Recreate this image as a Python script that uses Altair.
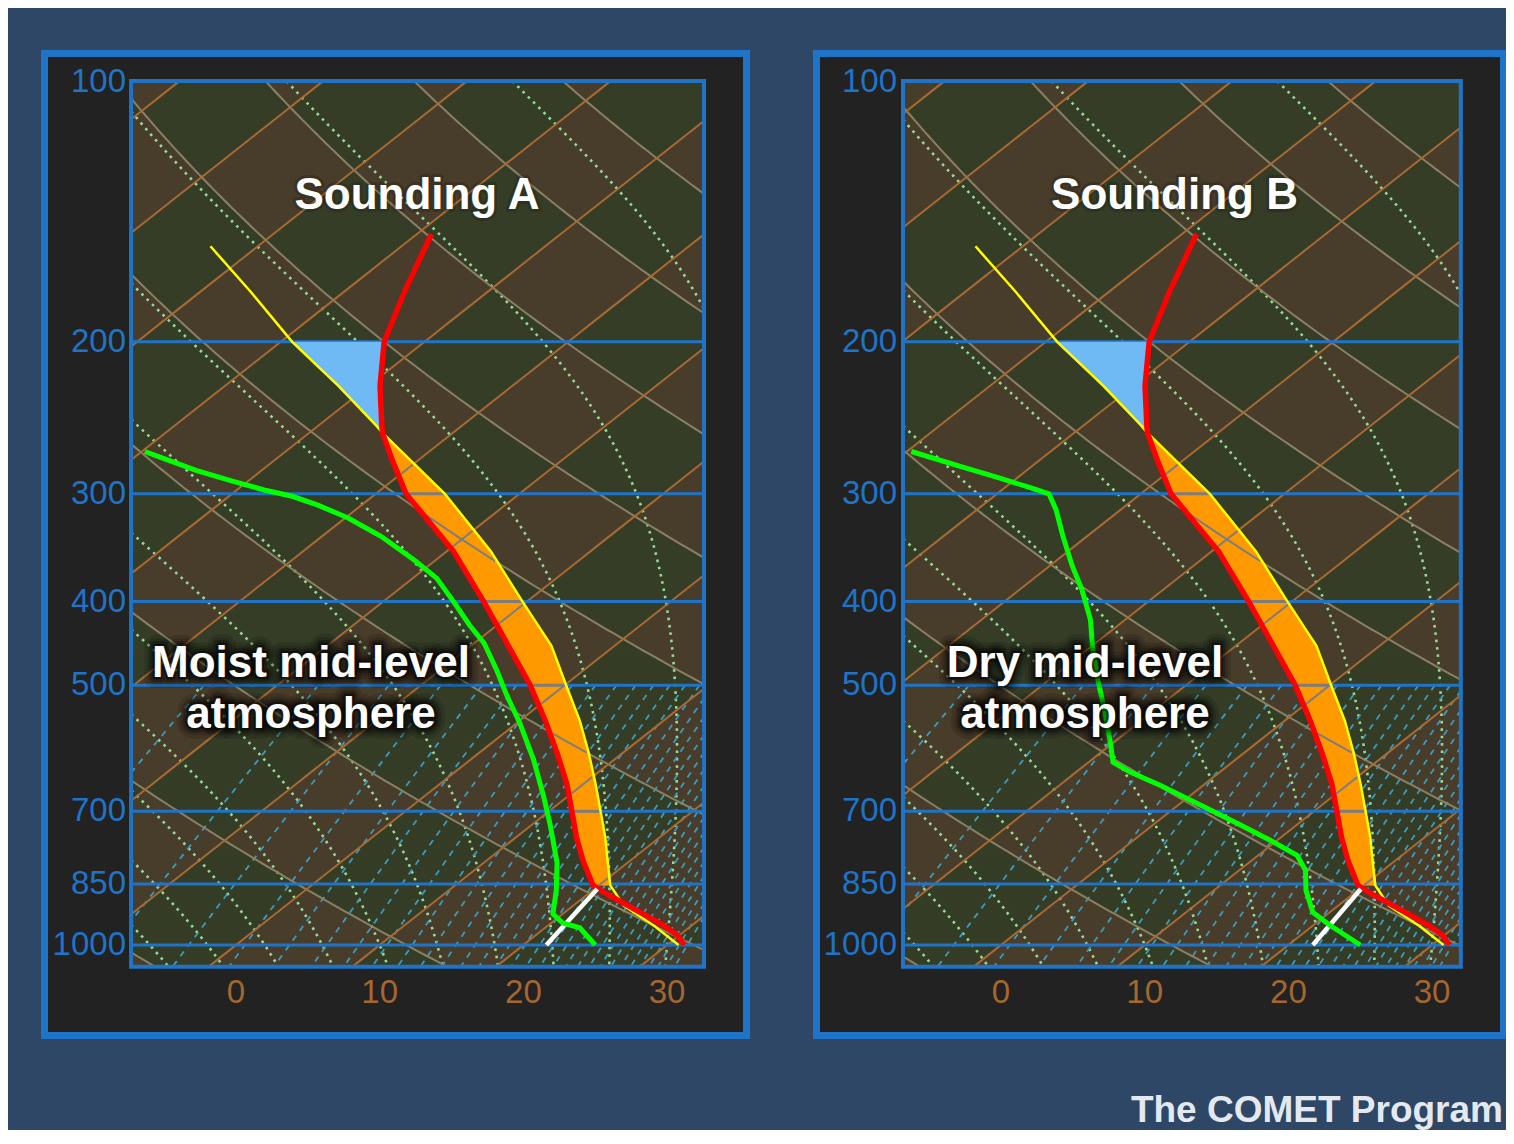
import math
import numpy as np
import pandas as pd
import altair as alt

# ---------------- values ----------------
PRESSURE_LINES = [200, 300, 400, 500, 700, 850, 1000]          # hPa
Y_TICKS = [100, 200, 300, 400, 500, 700, 850, 1000]             # hPa
X_TICKS = [0, 10, 20, 30]                                       # degC

# environmental temperature (identical in both soundings)
ENV_P = [150, 175, 200, 225, 250, 255, 275, 300, 350, 400, 450, 500, 550, 600,
         650, 700, 750, 800, 853, 875, 900, 925, 950, 975, 1000]
ENV_T = [-49.0, -45.8, -42.8, -39.2, -35.6, -34.9, -31.7, -27.9, -19.5, -13.0,
         -7.4, -2.4, 1.8, 5.5, 8.8, 11.6, 14.2, 16.8, 19.6, 21.5, 23.8, 26.0,
         28.1, 29.9, 31.2]

# lifted parcel temperature
PARCEL_P = [155, 175, 200, 225, 250, 255, 275, 300, 350, 400, 450, 500, 550,
            600, 650, 700, 750, 800, 853, 900, 950, 1000]
PARCEL_T = [-63.3, -56.5, -49.2, -42.1, -36.0, -34.9, -30.4, -25.2, -16.9,
            -10.3, -4.4, 0.1, 4.2, 7.7, 10.8, 13.6, 16.2, 18.5, 20.8, 23.5,
            27.4, 30.8]

# dew point, sounding A (moist mid levels)
DEW_A_P = [268, 273, 282, 290, 297, 302, 309, 320, 336, 358, 376, 400, 426,
           447, 482, 513, 553, 610, 674, 726, 803, 865, 920, 943, 955, 1000]
DEW_A_T = [-49.8, -47.9, -44.5, -41.1, -38.1, -35.6, -33.1, -29.8, -25.9,
           -21.5, -18.3, -15.1, -11.9, -9.3, -5.9, -3.2, 0.2, 4.4, 8.4, 11.3,
           15.1, 17.5, 19.3, 20.8, 22.4, 25.0]

# dew point, sounding B (dry mid levels)
DEW_B_P = [268, 279, 288, 295, 300, 313, 335, 363, 388, 420, 455, 493, 534,
           586, 614, 630, 653, 688, 726, 756, 787, 819, 864, 916, 948, 1000]
DEW_B_T = [-49.7, -44.9, -41.1, -38.3, -36.4, -34.5, -31.8, -28.5, -25.6,
           -22.4, -19.6, -16.6, -13.5, -10.0, -8.3, -6.3, -3.0, 1.5, 6.1, 9.5,
           12.7, 14.6, 16.4, 18.8, 21.1, 25.0]

# surface mixing-ratio line up to the LCL (white)
SFC_MIX_P = [1000, 861]
SFC_MIX_A_T = [21.6, 20.2]
SFC_MIX_B_T = [21.7, 20.1]

# reference lines of the diagram
ISOTHERMS = list(range(-90, 41, 10))            # degC
DRY_ADIABATS = list(range(245, 466, 20))        # potential temperature, K
MOIST_ADIABATS = list(range(-6, 39, 4))         # wet-bulb potential temp, degC
MIXING_RATIOS = list(range(1, 31))              # g/kg
MIX_TOP = 500.0                                 # hPa

# ---------------- diagram geometry ----------------
SKEW = 33.0          # degC of horizontal shift per unit of ln(p)
P_REF = 1000.0
LN_REF = math.log(P_REF)
KAPPA = 0.286
PLOT_P = (99.7, 1060.0)
PLOT_X_A = (-7.3, 32.57)
PLOT_X_B = (-6.82, 32.0)

W, H = 1498, 1122
PX_PER_DEG = 14.37
PX_PER_LNP = 374.8
LNP_OFFSET = 1644.0 + 8.0    # view_y = PX_PER_LNP*ln(p) - LNP_OFFSET

Y_DOM = [math.exp(LNP_OFFSET / PX_PER_LNP), math.exp((H + LNP_OFFSET) / PX_PER_LNP)]
YS = alt.Scale(type="log", domain=Y_DOM, reverse=True, nice=False)

# colours
BG_PAGE = "#2e4767"
PANEL_FILL = "#222222"
BLUE = "#1f74c8"
PLOT_BROWN = "#483c2a"
PLOT_GREEN = "#353d27"
ISO_C = "#a86a34"
DRY_C = "#8a8064"
MOIST_C = "#96da96"
MIX_C = "#3e9bbb"
XLAB_C = "#a3672f"
GRAY_C = "#7d7d7d"
LABEL_FONT = "Liberation Sans Narrow, Arial Narrow, Liberation Sans"

RD, CP, LV, EPS = 287.04, 1005.7, 2.501e6, 0.622


def clip_curve(X, lp, xmin, xmax):
    segs, cur = [], []
    inside = (X >= xmin) & (X <= xmax)
    for k in range(len(X)):
        if k > 0 and inside[k] != inside[k - 1]:
            bound = xmin if (X[k] < xmin or X[k - 1] < xmin) else xmax
            t = (bound - X[k - 1]) / (X[k] - X[k - 1])
            cur.append((bound, lp[k - 1] + t * (lp[k] - lp[k - 1])))
            if not inside[k]:
                segs.append(cur)
                cur = []
        if inside[k]:
            cur.append((X[k], lp[k]))
    if len(cur) > 1:
        segs.append(cur)
    return segs


def rows_of(segs, name):
    rows = []
    for s, seg in enumerate(segs):
        for k, (x, l) in enumerate(seg):
            rows.append({"X": x, "p": math.exp(l), "id": f"{name}_{s}", "i": k})
    return rows


def moist_rate(T, lnp):
    p = math.exp(lnp)
    es = 6.112 * math.exp(17.67 * (T - 273.15) / (T - 29.65))
    rs = EPS * es / (p - es)
    return (RD * T + LV * rs) / (CP + LV * LV * rs * EPS / (RD * T * T))


def integrate(T0, l0, l1, n):
    ls = np.linspace(l0, l1, n)
    Ts = np.empty(n)
    Ts[0] = T0
    for k in range(n - 1):
        h = ls[k + 1] - ls[k]
        T, l = Ts[k], ls[k]
        k1 = moist_rate(T, l)
        k2 = moist_rate(T + h * k1 / 2, l + h / 2)
        k3 = moist_rate(T + h * k2 / 2, l + h / 2)
        k4 = moist_rate(T + h * k3, l + h)
        Ts[k + 1] = T + h * (k1 + 2 * k2 + 2 * k3 + k4) / 6
    return ls, Ts


def iso_x(T, lp):
    return T + SKEW * (LN_REF - lp)


def dry_x(th, lp):
    return th * np.exp(KAPPA * (lp - LN_REF)) - 273.15 + SKEW * (LN_REF - lp)


def grid_frames(xmin, xmax):
    lp_top, lp_bot = math.log(PLOT_P[0]), math.log(PLOT_P[1])
    iso, dry, moist, mix = [], [], [], []
    lp = np.linspace(lp_top, lp_bot, 60)
    for T in ISOTHERMS:
        iso += rows_of(clip_curve(iso_x(T, lp), lp, xmin, xmax), f"t{T}")
    lp = np.linspace(lp_top, lp_bot, 240)
    for th in DRY_ADIABATS:
        dry += rows_of(clip_curve(dry_x(th, lp), lp, xmin, xmax), f"d{th}")
    for tw in MOIST_ADIABATS:
        lu, Tu = integrate(tw + 273.15, LN_REF, lp_top, 400)
        ld, Td = integrate(tw + 273.15, LN_REF, lp_bot, 12)
        ls = np.concatenate([lu[::-1], ld[1:]])
        Ts = np.concatenate([Tu[::-1], Td[1:]])
        Tc = np.interp(lp, ls, Ts) - 273.15
        moist += rows_of(clip_curve(iso_x(Tc, lp), lp, xmin, xmax), f"m{tw}")
    lpm = np.linspace(math.log(MIX_TOP), lp_bot, 60)
    for r in MIXING_RATIOS:
        e = np.exp(lpm) * r / (622.0 + r)
        a = np.log(e / 6.112)
        Tdew = 243.5 * a / (17.67 - a)
        mix += rows_of(clip_curve(iso_x(Tdew, lpm), lpm, xmin, xmax), f"r{r}")
    return [pd.DataFrame(d) for d in (iso, dry, moist, mix)]


def lines_inside_band(cape):
    """Grid lines where they cross the CAPE area (they show grey there)."""
    c = cape.sort_values("p")
    lpc = np.log(c["p"].values)
    lp = np.linspace(lpc[0], lpc[-1], 1500)
    xe = np.interp(lp, lpc, c["Xe"].values)
    xp = np.interp(lp, lpc, c["Xp"].values)
    rows = []
    curves = [(f"t{T}", iso_x(T, lp)) for T in ISOTHERMS] + \
             [(f"d{th}", dry_x(th, lp)) for th in DRY_ADIABATS]
    for name, X in curves:
        m = (X >= xe + 0.15) & (X <= xp - 0.1)
        d = np.diff(np.concatenate([[0], m.astype(int), [0]]))
        for s_i, (s, e) in enumerate(zip(np.where(d == 1)[0], np.where(d == -1)[0])):
            if e - s < 2:
                continue
            for k in range(s, e):
                rows.append({"X": X[k], "p": math.exp(lp[k]), "id": f"{name}_{s_i}", "i": k})
    return pd.DataFrame(rows)


def checker(xmin, xmax, n_strips=443):
    """Alternate shading of the cells between isotherms and dry adiabats."""
    lp_top, lp_bot = math.log(PLOT_P[0]), math.log(PLOT_P[1])
    lps = np.linspace(lp_top, lp_bot, n_strips + 1)
    h = lps[1] - lps[0]
    dx = 1.0 / PX_PER_DEG
    xs = np.arange(xmin + dx / 2, xmax, dx)
    rows = []
    th0, dth = DRY_ADIABATS[0], DRY_ADIABATS[1] - DRY_ADIABATS[0]
    for k in range(n_strips):
        lc = 0.5 * (lps[k] + lps[k + 1])
        T = xs - SKEW * (LN_REF - lc)
        th = (T + 273.15) * math.exp(KAPPA * (LN_REF - lc))
        par = ((np.floor(T / 10) + np.floor((th - th0) / dth)) % 2 == 0).astype(int)
        d = np.diff(np.concatenate([[0], par, [0]]))
        for s, e in zip(np.where(d == 1)[0], np.where(d == -1)[0]):
            rows.append({
                "x0": max(xmin, xs[s] - dx / 2),
                "x1": min(xmax, xs[e - 1] + dx / 2),
                "p0": math.exp(lps[k]),
                "p1": math.exp(min(lps[k + 1] + 0.5 * h, lp_bot)),
            })
    return pd.DataFrame(rows)


def text_with_shadow(text, x, y, size, align="center", strong=True):
    one = pd.DataFrame({"t": [text]})
    base = alt.Chart(one)
    layers = []
    halo = ((22, 0.12), (15, 0.18), (10, 0.26), (5, 0.45)) if strong else ((6, 0.18),)
    for sw, so in halo:
        layers.append(base.mark_text(
            font="Liberation Sans", fontWeight="bold", fontSize=size,
            align=align, baseline="alphabetic", fillOpacity=0,
            stroke="#000000", strokeWidth=sw, strokeOpacity=so,
            strokeJoin="round").encode(text="t:N", x=alt.value(x), y=alt.value(y)))
    layers.append(base.mark_text(
        font="Liberation Sans", fontWeight="bold", fontSize=size, align=align,
        baseline="alphabetic", color="#ffffff").encode(
        text="t:N", x=alt.value(x), y=alt.value(y)))
    return layers


def panel(zero_x, xr, dew_p, dew_t, mix_t, title, title_x, note1, note2,
          note_x, frame_x0, frame_x1, ylab_x):
    xdom = [-zero_x / PX_PER_DEG, (W - zero_x) / PX_PER_DEG]
    XS = alt.Scale(domain=xdom, nice=False, zero=False)

    def X(f):
        return alt.X(f, type="quantitative", scale=XS, axis=None)

    def Y(f):
        return alt.Y(f, type="quantitative", scale=YS, axis=None)

    skew_expr = f"datum.T + {SKEW} * log({P_REF} / datum.p)"
    one = pd.DataFrame({"k": [0]})
    L = []
    # panel frame
    L.append(alt.Chart(one).mark_rect(fill=PANEL_FILL, stroke=BLUE, strokeWidth=7).encode(
        x=alt.value(frame_x0), x2=alt.value(frame_x1), y=alt.value(45.5), y2=alt.value(1027.5)))
    box = pd.DataFrame({"x0": [xr[0]], "x1": [xr[1]], "p0": [PLOT_P[0]], "p1": [PLOT_P[1]]})
    L.append(alt.Chart(box).mark_rect(fill=PLOT_BROWN).encode(
        x=X("x0"), x2="x1", y=Y("p0"), y2="p1"))
    L.append(alt.Chart(checker(*xr)).mark_rect(fill=PLOT_GREEN, strokeWidth=0).encode(
        x=X("x0"), x2="x1", y=Y("p0"), y2="p1"))
    iso, dry, moist, mix = grid_frames(*xr)
    L.append(alt.Chart(moist).mark_line(color=MOIST_C, strokeWidth=2.6, strokeDash=[2.6, 4.8]).encode(
        x=X("X"), y=Y("p"), detail="id:N", order="i:Q"))
    L.append(alt.Chart(mix).mark_line(color=MIX_C, strokeWidth=1.8, strokeDash=[6, 6]).encode(
        x=X("X"), y=Y("p"), detail="id:N", order="i:Q"))
    L.append(alt.Chart(dry).mark_line(color=DRY_C, strokeWidth=2).encode(
        x=X("X"), y=Y("p"), detail="id:N", order="i:Q"))
    L.append(alt.Chart(iso).mark_line(color=ISO_C, strokeWidth=2).encode(
        x=X("X"), y=Y("p"), detail="id:N", order="i:Q"))
    # isobars and plot border
    plines = pd.DataFrame({"p": PRESSURE_LINES, "x0": xr[0], "x1": xr[1]})
    L.append(alt.Chart(plines).mark_rule(color=BLUE, strokeWidth=3).encode(
        x=X("x0"), x2="x1", y=Y("p")))
    L.append(alt.Chart(box).mark_rect(fillOpacity=0, stroke=BLUE, strokeWidth=4).encode(
        x=X("x0"), x2="x1", y=Y("p0"), y2="p1"))
    # CAPE and the negative area above the EL
    env = dict(zip(ENV_P, ENV_T))
    par = dict(zip(PARCEL_P, PARCEL_T))
    common = sorted(set(ENV_P) & set(PARCEL_P))
    area = pd.DataFrame({"p": common, "Tp": [par[p] for p in common], "Te": [env[p] for p in common]})
    area["Xp"] = area["Tp"] + SKEW * np.log(P_REF / area["p"])
    area["Xe"] = area["Te"] + SKEW * np.log(P_REF / area["p"])
    buoyant = area["Tp"] >= area["Te"]
    el = area.loc[buoyant, "p"].min()
    lfc = area.loc[buoyant, "p"].max()
    cape = area[(area["p"] >= el) & (area["p"] <= lfc)]
    neg = area[(area["p"] >= 200) & (area["p"] <= el)]
    L.append(alt.Chart(cape).mark_area(orient="horizontal", color="#ff9900").encode(
        y=Y("p"), x=X("Xe"), x2="Xp"))
    L.append(alt.Chart(neg).mark_area(orient="horizontal", color="#6fb9f5").encode(
        y=Y("p"), x=X("Xp"), x2="Xe"))
    # grid seen through the CAPE area
    L.append(alt.Chart(lines_inside_band(cape)).mark_line(color=GRAY_C, strokeWidth=2).encode(
        x=X("X"), y=Y("p"), detail="id:N", order="i:Q"))
    band_rules = cape.set_index("p")
    gp = [p for p in PRESSURE_LINES if el < p < lfc and p in band_rules.index]
    grules = pd.DataFrame({"p": gp, "x0": [band_rules.loc[p, "Xe"] for p in gp],
                           "x1": [band_rules.loc[p, "Xp"] for p in gp]})
    L.append(alt.Chart(grules).mark_rule(color=GRAY_C, strokeWidth=3).encode(
        x=X("x0"), x2="x1", y=Y("p")))
    # soundings
    par_df = pd.DataFrame({"p": PARCEL_P, "T": PARCEL_T})
    env_df = pd.DataFrame({"p": ENV_P, "T": ENV_T})
    dew_df = pd.DataFrame({"p": dew_p, "T": dew_t})
    mix_df = pd.DataFrame({"p": SFC_MIX_P, "T": mix_t})
    L.append(alt.Chart(par_df).transform_calculate(X=skew_expr).mark_line(
        color="#ffff00", strokeWidth=2.5).encode(x=X("X"), y=Y("p"), order="p:Q"))
    L.append(alt.Chart(env_df).transform_calculate(X=skew_expr).mark_line(
        color="#ff0000", strokeWidth=5.5).encode(x=X("X"), y=Y("p"), order="p:Q"))
    L.append(alt.Chart(mix_df).transform_calculate(X=skew_expr).mark_line(
        color="#ffffff", strokeWidth=4.5).encode(x=X("X"), y=Y("p"), order="p:Q"))
    L.append(alt.Chart(dew_df).transform_calculate(X=skew_expr).mark_line(
        color="#00ff00", strokeWidth=5).encode(x=X("X"), y=Y("p"), order="p:Q"))
    # tick labels
    L.append(alt.Chart(pd.DataFrame({"p": Y_TICKS})).mark_text(
        font=LABEL_FONT, fontSize=33, align="right", baseline="middle",
        color=BLUE).encode(y=Y("p"), x=alt.value(ylab_x), text="p:Q"))
    L.append(alt.Chart(pd.DataFrame({"v": X_TICKS})).mark_text(
        font=LABEL_FONT, fontSize=33, align="center", baseline="middle",
        color=XLAB_C).encode(x=X("v"), y=alt.value(985), text="v:Q"))
    # annotations
    L += text_with_shadow(title, title_x, 201, 44, strong=False)
    L += text_with_shadow(note1, note_x, 669, 44)
    L += text_with_shadow(note2, note_x, 720, 44)
    return alt.layer(*L)


panel_a = panel(228, PLOT_X_A, DEW_A_P, DEW_A_T, SFC_MIX_A_T, "Sounding A", 409,
                "Moist mid-level", "atmosphere", 303, 36.5, 738.5, 118)
panel_b = panel(993, PLOT_X_B, DEW_B_P, DEW_B_T, SFC_MIX_B_T, "Sounding B", 1166.5,
                "Dry mid-level", "atmosphere", 1077, 808.5, 1495.5, 889)

comet = alt.Chart(pd.DataFrame({"t": ["The COMET Program"]})).mark_text(
    font="Liberation Sans", fontWeight="bold", fontSize=37, align="right",
    baseline="alphabetic", color="#e4e9f0").encode(
    text="t:N", x=alt.value(1495), y=alt.value(1114))

chart = alt.layer(panel_a, panel_b, comet).resolve_scale(x="independent").properties(
    width=W, height=H, padding=0, background=BG_PAGE,
    autosize=alt.AutoSizeParams(type="none")
).configure_view(stroke=None)

chart.save("out.html", embed_options={"renderer": "svg", "actions": False})
